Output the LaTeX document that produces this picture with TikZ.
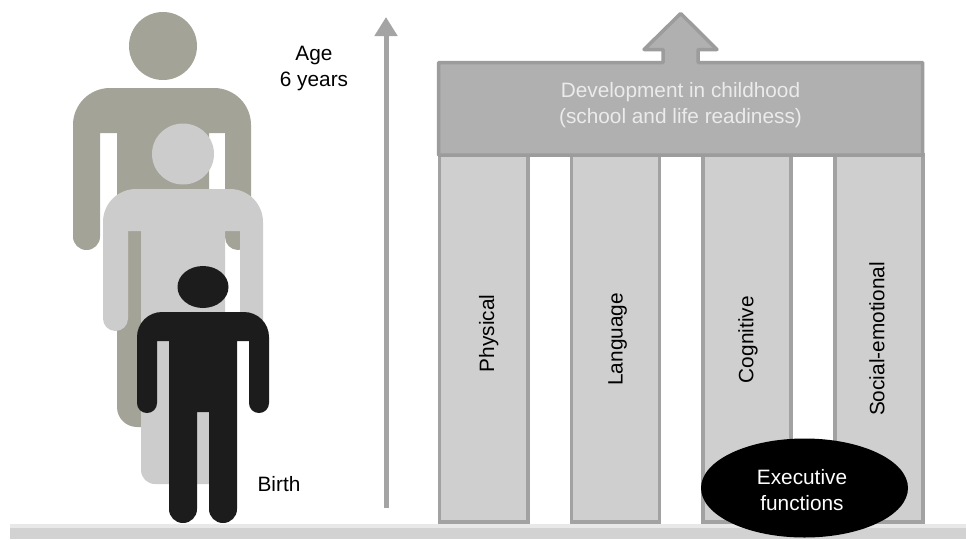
\documentclass[tikz,border=0pt]{standalone}
\usepackage{fontspec}
\setmainfont{Liberation Sans}
\usetikzlibrary{arrows.meta,shapes.geometric}
\definecolor{adult}{HTML}{A3A397}
\definecolor{child}{HTML}{CCCCCC}
\definecolor{baby}{HTML}{1C1C1C}
\definecolor{floorc}{HTML}{D2D2D2}
\definecolor{floort}{HTML}{E8E8E8}
\definecolor{pillarf}{HTML}{CFCFCF}
\definecolor{pillard}{HTML}{A2A2A2}
\definecolor{roofc}{HTML}{B0B0B0}
\definecolor{roofd}{HTML}{9C9C9C}
\definecolor{axisc}{HTML}{A4A4A4}
\tikzset{
  x=1pt,y=-1pt,
  txt/.style={font=\fontsize{20.8}{26}\selectfont,align=center,inner sep=0pt,text=black},
  pillar/.style={draw=pillard,fill=pillarf,line width=3.5pt,inner sep=0pt,outer sep=0pt,anchor=north west,minimum height=367pt},
  roof/.style={draw=roofd,fill=roofc,line width=3.5pt,line join=round},
  vlabel/.style={txt,rotate=90,anchor=base},
}
\begin{document}
\begin{tikzpicture}
\useasboundingbox (0,0) rectangle (966,539);
\fill[white] (0,0) rectangle (966,539);
% floor
\fill[floort] (10,524) rectangle (966,528);
\fill[floorc] (10,527.5) rectangle (966,539);
% adult
\fill[adult] (163,46) circle[radius=34];
\fill[adult] (100,133) [rounded corners=13.4pt] -- (100,250) -- (73,250) [sharp corners] [rounded corners=37pt] -- (73,88) -- (251,88) [sharp corners] [rounded corners=13pt] -- (251,250) -- (225,250) [sharp corners] -- (225,133) -- (209,133) [rounded corners=20pt] -- (209,427) -- (117,427) [sharp corners] -- (117,133) -- cycle;
% child
\fill[child] (183,154) ellipse[x radius=31,y radius=30.5];
\fill[child] (128,231) [rounded corners=12.4pt] -- (128,331) -- (103,331) [sharp corners] [rounded corners=33pt] -- (103,189) -- (263,189) [sharp corners] [rounded corners=11.4pt] -- (263,331) -- (240,331) [sharp corners] -- (240,231) -- (225,231) -- (225,484) [rounded corners=14pt] -- (225,484) -- (141,484) [sharp corners] -- (141,231) -- cycle;
% baby
\fill[baby] (203,287) ellipse[x radius=25.5,y radius=21];
\fill[baby] (157,341) [rounded corners=9.9pt] -- (157,413) -- (137,413) [sharp corners] [rounded corners=25pt] -- (137,312) -- (269,312) [sharp corners] [rounded corners=9.9pt] -- (269,413) -- (249,413) [sharp corners] -- (249,341) -- (237,341) [rounded corners=13.9pt] -- (237,523) -- (209,523) [sharp corners] -- (209,412) -- (197,412) [rounded corners=13.9pt] -- (197,523) -- (169,523) [sharp corners] -- (169,341) -- cycle;
% labels left
\node[txt] (age) at (314,68.5) {Age\\6 years};
\node[txt,anchor=base] (birth) at (279,491) {Birth};
% age axis
\coordinate (axisbottom) at (386,508);
\coordinate (axistop) at (386,17);
\draw[axisc,line width=5pt,-{Triangle[length=19pt,width=22pt]}] (axisbottom) -- (axistop);
% pillars
\node[pillar,minimum width=88.5pt] (p1) at (439.5,155) {};
\node[pillar,minimum width=88pt] (p2) at (571.5,155) {};
\node[pillar,minimum width=88pt] (p3) at (702.8,155) {};
\node[pillar,minimum width=88pt] (p4) at (835,155) {};
\node[vlabel] (t1) at (494,333.5) {Physical};
\node[vlabel] (t2) at (622.7,339.3) {Language};
\node[vlabel] (t3) at (753.3,339.7) {Cognitive};
\node[vlabel] (t4) at (884.3,339) {Social-emotional};
% roof with arrow
\draw[roof] (438.5,62.5) -- (663,62.5) -- (663,49.5) -- (644,49.5) -- (680.7,13.5) -- (717,49.5) -- (698,49.5) -- (698,62.5) -- (922.5,62.5) -- (922.5,155) -- (438.5,155) -- cycle;
\node[txt,text=white!92!black] (dev) at (680.5,105.5) {Development in childhood\\(school and life readiness)};
% ellipse
\node[fill=black,ellipse,minimum width=207pt,minimum height=99pt,inner sep=0pt,outer sep=0pt] (ef) at (804.5,488) {};
\node[txt,text=white] (eft) at (802,490) {Executive\\functions};
\end{tikzpicture}
\end{document}
